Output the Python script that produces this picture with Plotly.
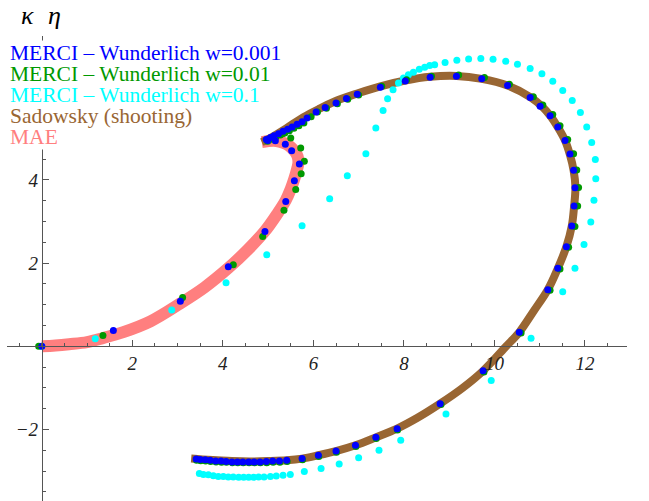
import plotly.graph_objects as go

# MAE curve (pink band)
mae_x = [0.0, 0.3, 0.6, 1.0, 1.36, 1.8, 2.4, 3.06, 3.6, 4.12, 4.55, 4.93, 5.2, 5.39,
         5.50, 5.58, 5.65, 5.67, 5.65, 5.60, 5.51, 5.41, 5.25, 5.12, 4.86]
mae_y = [0.0, 0.02, 0.05, 0.10, 0.20, 0.34, 0.60, 1.03, 1.42, 1.88, 2.32, 2.77, 3.18, 3.51,
         3.78, 4.03, 4.30, 4.43, 4.57, 4.67, 4.78, 4.86, 4.92, 4.94, 4.91]

# Sadowsky shooting curve (brown band)
sad_x = [4.86, 5.05, 5.40, 5.78, 6.15, 6.52, 7.00, 7.48, 8.03, 8.58, 9.16, 9.72, 10.29, 10.81,
         11.05, 11.23, 11.40, 11.56, 11.67, 11.75, 11.79, 11.76, 11.71, 11.59, 11.40, 11.18,
         10.87, 10.55, 10.26, 9.75, 9.30, 8.80, 8.30, 7.85, 7.38, 6.93, 6.50, 6.11, 5.75, 5.41,
         5.00, 4.60, 4.20, 3.87, 3.55, 3.30]
sad_y = [4.91, 5.01, 5.24, 5.51, 5.72, 5.91, 6.09, 6.25, 6.39, 6.48, 6.50, 6.43, 6.27, 5.98,
         5.77, 5.55, 5.27, 4.95, 4.60, 4.23, 3.83, 3.35, 2.89, 2.39, 1.87, 1.36,
         0.85, 0.34, 0.0, -0.59, -1.00, -1.38, -1.72, -1.98, -2.19, -2.38, -2.52, -2.62, -2.70, -2.74,
         -2.76, -2.77, -2.76, -2.74, -2.72, -2.70]

# MERCI - Wunderlich w=0.001
w001_x = [0.0, 1.58, 3.06, 4.12, 4.93, 5.39, 5.58, 5.69, 5.52, 5.38, 5.16, 4.99, 4.96, 5.05,
          5.13, 5.23, 5.33, 5.43, 5.53, 5.64, 5.75, 5.86, 6.06, 6.26, 6.50, 6.73, 6.97, 7.48,
          8.03, 8.58, 9.16, 9.72, 10.29, 10.79, 11.01, 11.23, 11.40, 11.56, 11.67, 11.75, 11.78,
          11.76, 11.71, 11.59, 11.40, 11.18, 10.55, 9.75, 8.80, 7.85, 7.38, 6.93, 6.50, 6.11,
          5.75, 5.41, 5.25, 5.10, 4.96, 4.82, 4.69, 4.57, 4.44, 4.32, 4.20, 4.07, 3.96, 3.84,
          3.72, 3.61, 3.50, 3.41]
w001_y = [0.0, 0.38, 1.08, 1.91, 2.76, 3.48, 3.98, 4.38, 4.70, 4.86, 4.94, 4.95, 4.97, 5.02,
          5.06, 5.11, 5.17, 5.22, 5.27, 5.34, 5.40, 5.49, 5.63, 5.74, 5.85, 5.96, 6.06, 6.23,
          6.38, 6.47, 6.49, 6.43, 6.27, 5.98, 5.77, 5.54, 5.27, 4.95, 4.62, 4.23, 3.81,
          3.37, 2.89, 2.39, 1.875, 1.36, 0.34, -0.59, -1.38, -1.98, -2.19, -2.38, -2.52, -2.62,
          -2.70, -2.74, -2.76, -2.76, -2.77, -2.78, -2.78, -2.78, -2.78, -2.78, -2.78, -2.77, -2.76, -2.76,
          -2.74, -2.73, -2.72, -2.71]

# MERCI - Wunderlich w=0.01
w01_x = [-0.07, 1.35, 3.11, 4.23, 4.88, 5.35, 5.61, 5.73, 5.80, 5.72, 5.50, 5.32, 4.99, 5.08,
         5.17, 5.27, 5.37, 5.47, 5.57, 5.68, 5.79, 5.95, 6.09, 6.29, 6.53, 6.76, 7.00, 7.51,
         8.06, 8.61, 9.21, 9.78, 10.33, 10.86, 11.07, 11.29, 11.45, 11.62, 11.75, 11.82, 11.86,
         11.84, 11.78, 11.64, 11.45, 11.23, 10.59, 9.77, 8.82, 7.86, 7.39, 6.94, 6.51, 6.12,
         5.76, 5.42, 5.26, 5.11, 4.97, 4.83, 4.70, 4.58, 4.45, 4.33, 4.21, 4.08, 3.97, 3.85,
         3.73, 3.62, 3.51, 3.42]
w01_y = [0.0, 0.26, 1.17, 1.96, 2.64, 3.27, 3.77, 4.15, 4.45, 4.77, 5.01, 5.11, 4.93, 4.98,
         5.03, 5.08, 5.13, 5.18, 5.24, 5.30, 5.37, 5.52, 5.63, 5.72, 5.83, 5.94, 6.04, 6.25,
         6.41, 6.49, 6.52, 6.46, 6.30, 6.00, 5.80, 5.57, 5.30, 4.97, 4.63, 4.24, 3.82,
         3.37, 2.88, 2.38, 1.86, 1.35, 0.32, -0.62, -1.40, -2.01, -2.22, -2.41, -2.55, -2.65,
         -2.73, -2.77, -2.79, -2.79, -2.80, -2.80, -2.80, -2.80, -2.80, -2.80, -2.80, -2.79, -2.79, -2.78,
         -2.77, -2.76, -2.75, -2.74]

# MERCI - Wunderlich w=0.1
w1_x = [0.0, 1.18, 2.87, 4.07, 4.97, 5.75, 6.36, 6.75, 7.16, 7.38, 7.54, 7.64, 7.76, 7.88,
        7.99, 8.10, 8.21, 8.34, 8.46, 8.57, 8.68, 8.91, 9.17, 9.43, 9.70, 9.97, 10.25, 10.51,
        10.79, 11.05, 11.29, 11.51, 11.72, 11.90, 12.04, 12.15, 12.23, 12.24, 12.20, 12.13,
        11.98, 11.78, 11.51, 10.81, 9.93, 8.93, 7.93, 7.45, 7.00, 6.57, 6.17, 5.80, 5.49, 5.33,
        5.18, 5.05, 4.91, 4.79, 4.68, 4.57, 4.46, 4.35, 4.23, 4.12, 4.01, 3.90, 3.79, 3.68,
        3.57, 3.48]
w1_y = [0.0, 0.18, 0.87, 1.53, 2.20, 2.90, 3.55, 4.10, 4.63, 5.25, 5.67, 5.95, 6.17, 6.33,
        6.45, 6.53, 6.59, 6.66, 6.71, 6.75, 6.77, 6.82, 6.875, 6.91, 6.92, 6.90, 6.85, 6.78,
        6.68, 6.55, 6.37, 6.15, 5.91, 5.62, 5.27, 4.90, 4.49, 4.03, 3.51, 2.99,
        2.45, 1.875, 1.31, 0.19, -0.82, -1.63, -2.26, -2.50, -2.68, -2.83, -2.94, -3.01, -3.08, -3.10,
        -3.12, -3.13, -3.14, -3.14, -3.15, -3.15, -3.15, -3.15, -3.14, -3.14, -3.13, -3.13, -3.11, -3.09,
        -3.08, -3.06]

x_ticks = [2, 4, 6, 8, 10, 12]
y_ticks = [-2, 2, 4]
legend_labels = ["MERCI \u2013 Wunderlich w=0.001", "MERCI \u2013 Wunderlich w=0.01",
                 "MERCI \u2013 Wunderlich w=0.1", "Sadowsky (shooting)", "MAE"]
legend_colors = ["#0000FF", "#009900", "#00FFFF", "#996633", "#FF7F7F"]

SERIF = "Liberation Serif, Times New Roman, serif"
X_RANGE = [-0.77, 12.93]
Y_RANGE = [-3.72, 7.46]

fig = go.Figure()
fig.add_trace(go.Scatter(x=mae_x, y=mae_y, mode="lines", line=dict(color="#FF7F7F", width=12, shape="spline")))
fig.add_trace(go.Scatter(x=sad_x, y=sad_y, mode="lines", line=dict(color="#996633", width=8, shape="spline")))
fig.add_trace(go.Scatter(x=w1_x, y=w1_y, mode="markers", marker=dict(color="#00FFFF", size=7)))
fig.add_trace(go.Scatter(x=w01_x, y=w01_y, mode="markers", marker=dict(color="#009900", size=7)))
fig.add_trace(go.Scatter(x=w001_x, y=w001_y, mode="markers", marker=dict(color="#0000FF", size=7)))

axis_common = dict(
    showgrid=False, zeroline=False, showline=True, linecolor="#555", linewidth=1,
    ticks="inside", ticklen=6, tickcolor="#555", automargin=False,
    tickfont=dict(family=SERIF, size=19, color="#222", style="italic"),
    minor=dict(ticks="inside", ticklen=3.5, dtick=0.5, tickcolor="#555"),
)
fig.update_xaxes(range=X_RANGE, tickvals=x_ticks, anchor="free",
                 position=(0 - Y_RANGE[0]) / (Y_RANGE[1] - Y_RANGE[0]), **axis_common)
fig.update_yaxes(range=Y_RANGE, tickvals=y_ticks, ticktext=["\u22122", "2", "4"], anchor="free",
                 position=(0 - X_RANGE[0]) / (X_RANGE[1] - X_RANGE[0]), **axis_common)

for i, (label, color) in enumerate(zip(legend_labels, legend_colors)):
    fig.add_annotation(x=-0.72, y=7.04 - 0.505 * i, xref="x", yref="y", text=label,
                       showarrow=False, xanchor="left", yanchor="middle", bgcolor="white",
                       borderpad=0, font=dict(family=SERIF, size=21.5, color=color))

# axis labels
fig.add_annotation(x=-0.31, y=1.045, xref="x", yref="paper", text="\u03ba", showarrow=False,
                   xanchor="center", yanchor="middle",
                   font=dict(family=SERIF, size=26, color="black", style="italic"))
fig.add_annotation(x=0.28, y=1.045, xref="x", yref="paper", text="\u03b7", showarrow=False,
                   xanchor="center", yanchor="middle",
                   font=dict(family=SERIF, size=26, color="black", style="italic"))
fig.add_annotation(x=13.22, y=0, xref="x", yref="y", text="\u03ba", showarrow=False,
                   xanchor="center", yanchor="middle",
                   font=dict(family=SERIF, size=26, color="black", style="italic"))

fig.update_layout(
    width=649, height=501, showlegend=False,
    paper_bgcolor="white", plot_bgcolor="white",
    margin=dict(l=7, r=22, t=36, b=0),
)

# drop the browser's default 8px body margin so the figure fills the window
fig.write_html("out.html", config={"displayModeBar": False},
               post_script="document.body.style.margin = '0';")
